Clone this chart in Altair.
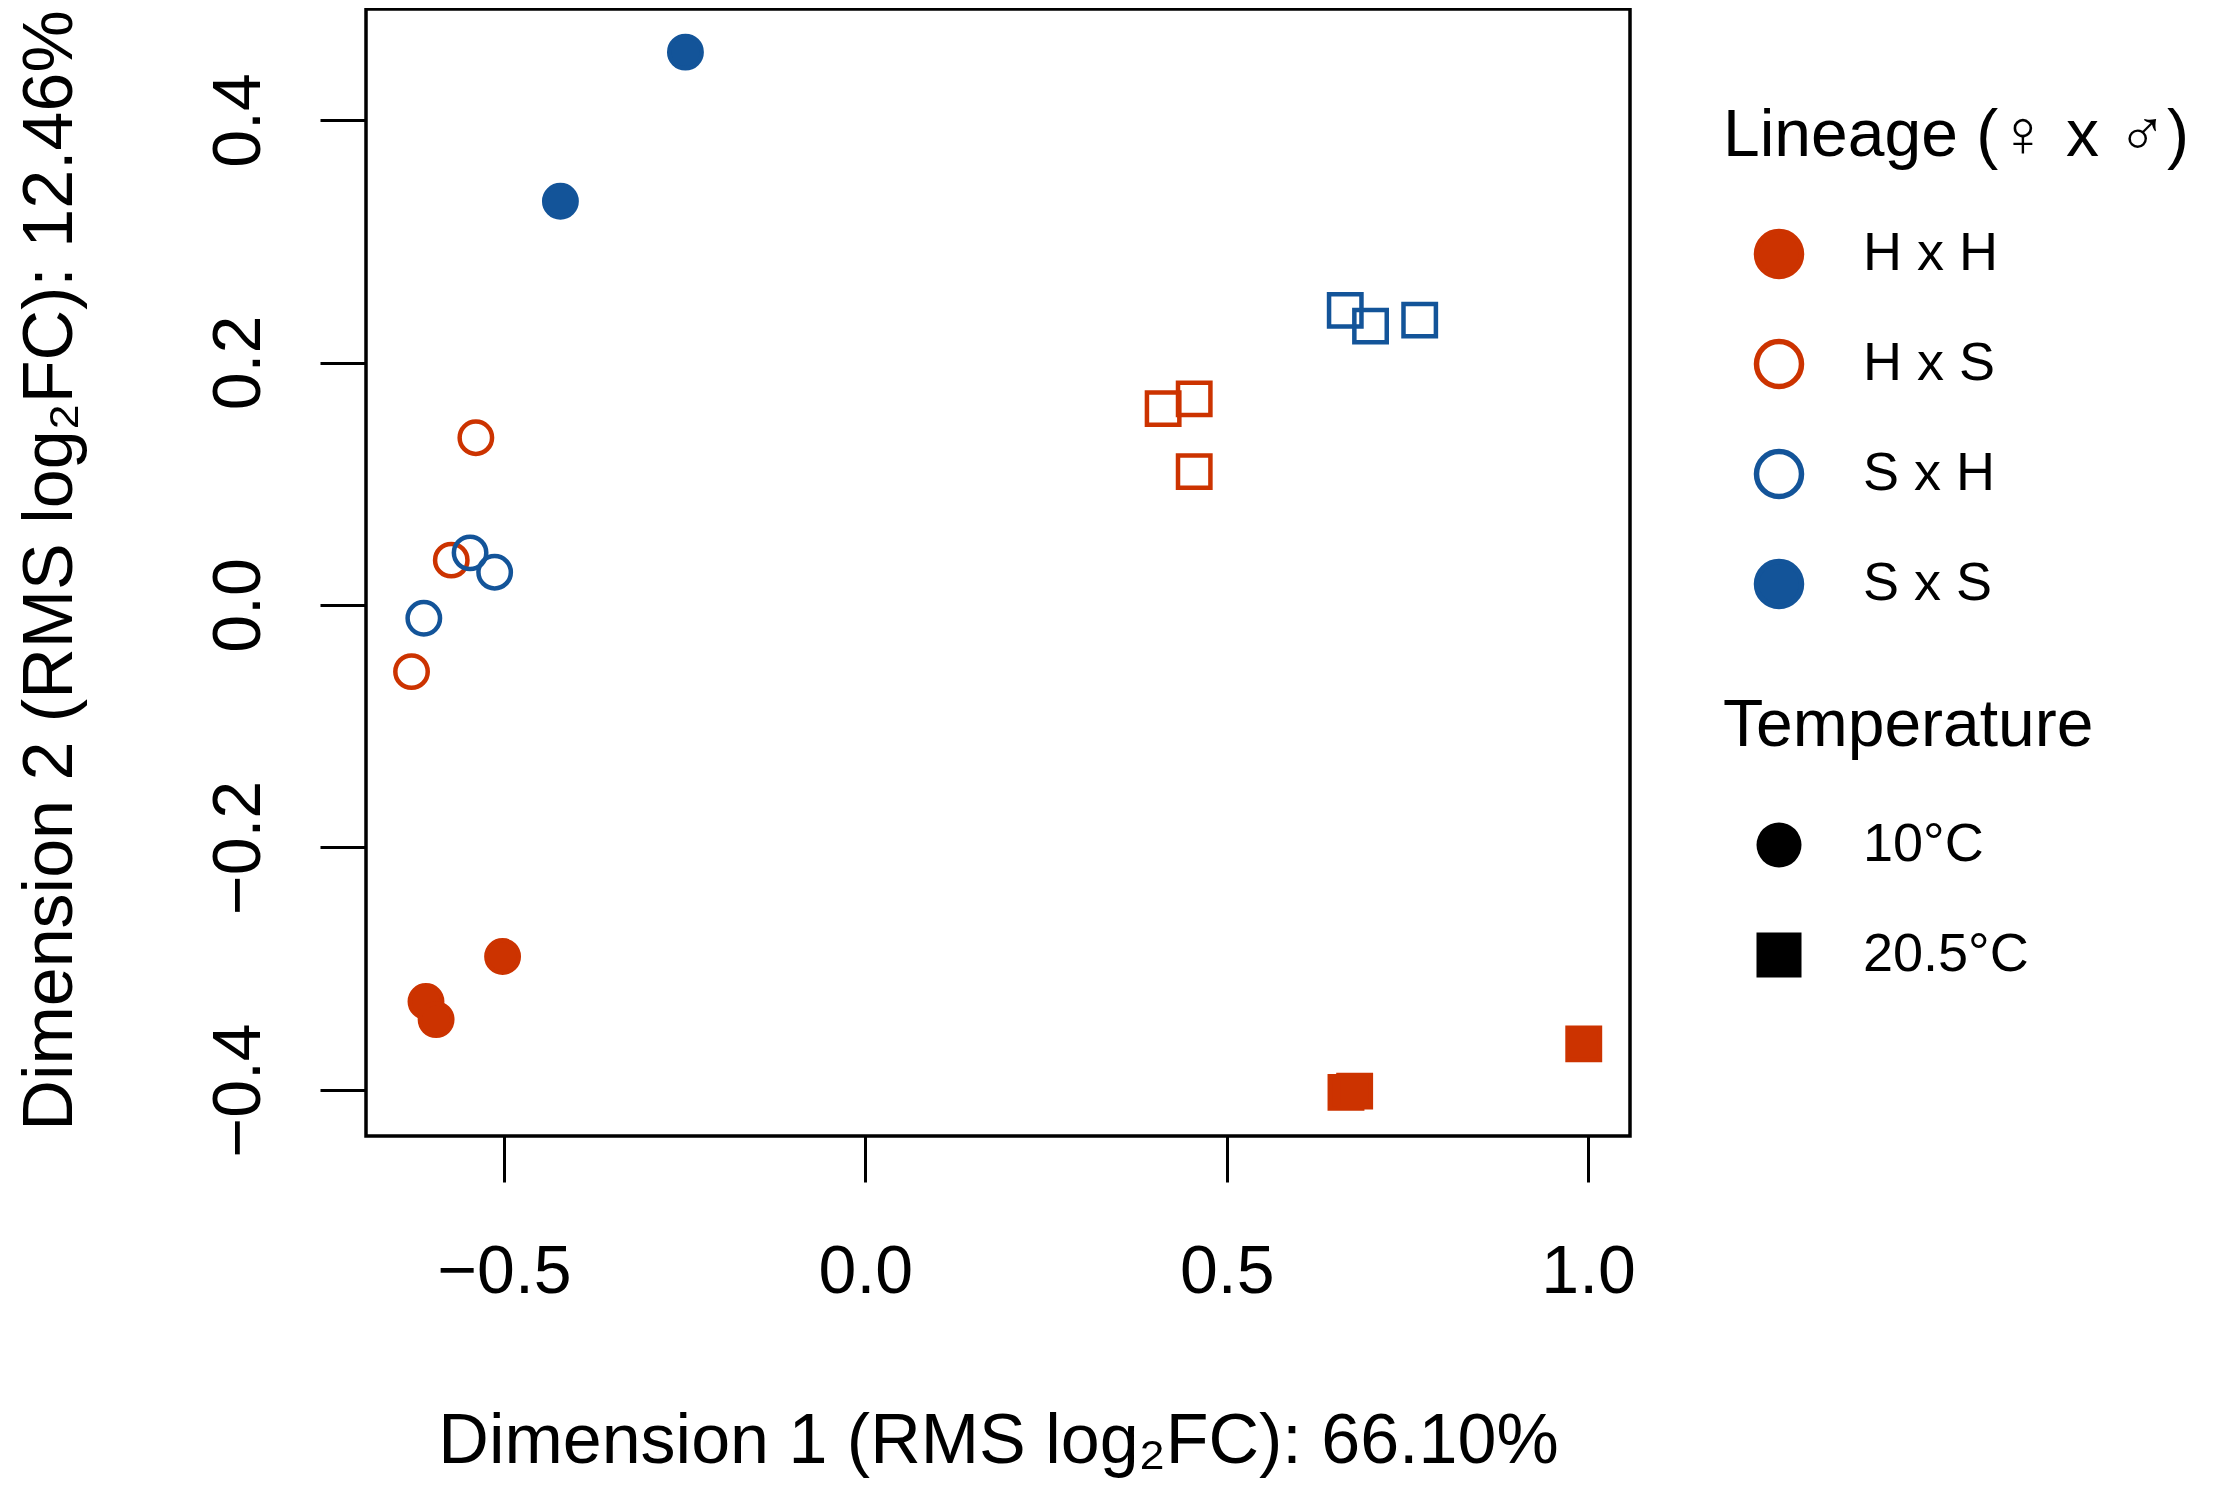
import altair as alt
import pandas as pd

# ---- data ----
lineage = (["H x H"] * 6) + (["H x S"] * 6) + (["S x H"] * 6) + (["S x S"] * 2)
temperature = (
    ["10°C"] * 3 + ["20.5°C"] * 3
    + ["10°C"] * 3 + ["20.5°C"] * 3
    + ["10°C"] * 3 + ["20.5°C"] * 3
    + ["10°C"] * 2
)
dim1 = [-0.502, -0.608, -0.594, 0.994, 0.665, 0.677,
        -0.539, -0.573, -0.628, 0.412, 0.455, 0.455,
        -0.547, -0.513, -0.611, 0.664, 0.699, 0.767,
        -0.249, -0.422]
dim2 = [-0.290, -0.327, -0.342, -0.362, -0.402, -0.401,
        0.138, 0.037, -0.055, 0.162, 0.170, 0.110,
        0.043, 0.027, -0.011, 0.243, 0.230, 0.235,
        0.456, 0.333]

lineage_levels = ["H x H", "H x S", "S x H", "S x S"]
temp_levels = ["10°C", "20.5°C"]
x_ticks = [-0.5, 0.0, 0.5, 1.0]
y_ticks = [-0.4, -0.2, 0.0, 0.2, 0.4]

ORANGE = "#CC3300"
BLUE = "#135499"
fill_range = [ORANGE, "transparent", "transparent", BLUE]
stroke_range = [ORANGE, ORANGE, BLUE, BLUE]

df = pd.DataFrame({"dim1": dim1, "dim2": dim2, "Lineage": lineage, "Temperature": temperature})

FONT = "Liberation Sans, Arial, Helvetica, sans-serif"

lineage_legend = alt.Legend(
    title="Lineage (♀ x ♂)", orient="none", legendX=1357, legendY=95,
    symbolOffset=29, labelOffset=57, rowPadding=42, titlePadding=57,
    symbolSize=2025, symbolStrokeWidth=5.5,
)
temp_legend = alt.Legend(
    title="Temperature", orient="none", legendX=1357, legendY=685,
    symbolOffset=29, labelOffset=57, rowPadding=56, titlePadding=58,
    symbolSize=2025, symbolStrokeWidth=0,
    symbolFillColor="black", symbolStrokeColor="black",
)

chart = alt.Chart(df).mark_point(filled=True, opacity=1, size=1050, strokeWidth=4.5).encode(
    x=alt.X("dim1:Q", scale=alt.Scale(domain=[-0.691, 1.058], nice=False, zero=False),
            axis=alt.Axis(values=x_ticks, format=".1f", title="Dimension 1 (RMS log₂FC): 66.10%",
                          titleX=632, titleY=326, titleBaseline="alphabetic",
                          labelPadding=56)),
    y=alt.Y("dim2:Q", scale=alt.Scale(domain=[-0.438, 0.4916], nice=False, zero=False),
            axis=alt.Axis(values=y_ticks, format=".1f", title="Dimension 2 (RMS log₂FC): 12.46%",
                          titleX=-295, titleY=561, titleAngle=270, titleBaseline="alphabetic",
                          titleAlign="center",
                          labelAngle=270, labelAlign="center", labelBaseline="alphabetic",
                          labelPadding=61)),
    fill=alt.Fill("Lineage:N", scale=alt.Scale(domain=lineage_levels, range=fill_range),
                  legend=lineage_legend),
    stroke=alt.Stroke("Lineage:N", scale=alt.Scale(domain=lineage_levels, range=stroke_range),
                      legend=lineage_legend),
    shape=alt.Shape("Temperature:N", scale=alt.Scale(domain=temp_levels, range=["circle", "square"]),
                    legend=temp_legend),
).properties(
    width=1264, height=1127,
    autosize=alt.AutoSizeParams(type="none"),
    padding={"left": 358, "top": 1, "right": 579, "bottom": 344},
    background="white",
).configure_view(
    stroke="black", strokeWidth=3.5, fill="white",
).configure_axis(
    domain=False, grid=False, ticks=True, tickColor="black", tickWidth=3, tickSize=46,
    labelFont=FONT, labelFontSize=68, labelColor="black",
    titleFont=FONT, titleFontSize=70, titleFontWeight="normal", titleColor="black",
    labelFlush=False, labelOverlap=False,
).configure_legend(
    padding=0, titleFont=FONT, titleFontSize=66, titleFontWeight="normal", titleColor="black",
    titleLimit=900, labelFont=FONT, labelFontSize=54, labelColor="black", labelLimit=500,
)

chart.save("out.html", embed_options={"renderer": "svg", "actions": False})
